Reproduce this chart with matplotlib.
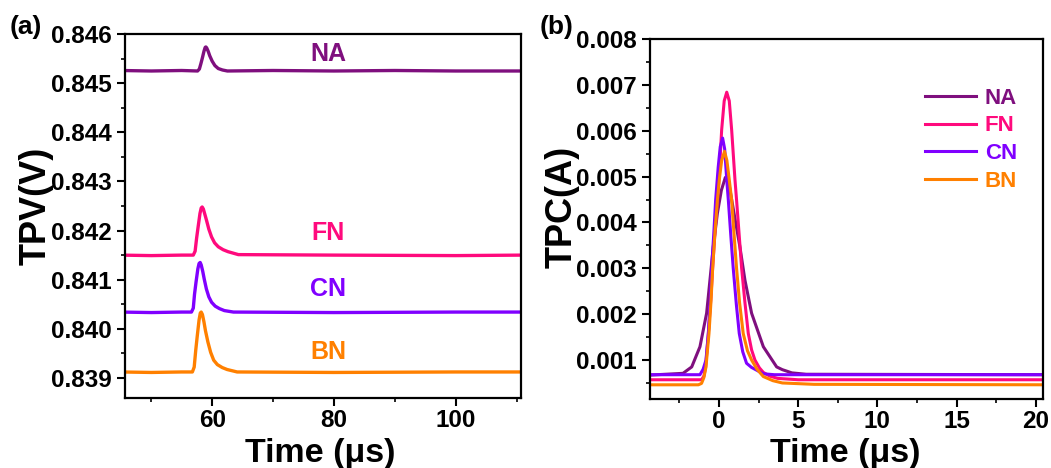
import matplotlib
matplotlib.use("Agg")
import matplotlib.pyplot as plt
from matplotlib.ticker import MultipleLocator, FormatStrFormatter

plt.rcParams['font.family'] = ['Liberation Sans', 'DejaVu Sans']
plt.rcParams['font.weight'] = 'bold'

names = ["NA", "FN", "CN", "BN"]
colors = ["#7f0f7e", "#ff0a7d", "#8000ff", "#ff8000"]

# transient photovoltage, time in us, voltage in V
tpv_t = {
    "NA": [45, 50, 55, 57.6, 57.9, 58.15, 58.4, 58.65, 58.85, 58.96, 59.1, 59.35, 59.6, 60.0, 60.45,
           61.0, 61.7, 62.5, 70, 80, 90, 100, 111],
    "FN": [45, 50, 55, 56.9, 57.2, 57.45, 57.7, 58.0, 58.2, 58.36, 58.55, 58.8, 59.07, 59.45, 59.9,
           60.4, 61.0, 61.8, 62.6, 64.3, 80, 100, 111],
    "CN": [45, 50, 55, 56.6, 56.9, 57.1, 57.35, 57.65, 57.85, 58.03, 58.2, 58.45, 58.7, 59.05, 59.45,
           59.9, 60.5, 61.2, 62.0, 63.5, 80, 100, 111],
    "BN": [45, 50, 55, 56.75, 57.05, 57.3, 57.55, 57.85, 58.05, 58.2, 58.4, 58.65, 58.9, 59.3, 59.75,
           60.25, 60.85, 61.65, 62.45, 64.1, 80, 100, 111],
}
tpv_v = {
    "NA": [0.84526, 0.84525, 0.84526, 0.84525, 0.84529, 0.84540, 0.84552, 0.84565, 0.84573, 0.84574,
           0.84572, 0.84565, 0.84556, 0.84545, 0.84536, 0.84530, 0.84527, 0.84525, 0.84526, 0.84525,
           0.84526, 0.84525, 0.84525],
    "FN": [0.84150, 0.84149, 0.84150, 0.84150, 0.84158, 0.84185, 0.84208, 0.84235, 0.84246, 0.84248,
           0.84244, 0.84233, 0.84221, 0.84203, 0.84187, 0.84175, 0.84167, 0.84161, 0.84157, 0.84151,
           0.84150, 0.84149, 0.84150],
    "CN": [0.84034, 0.84033, 0.84034, 0.84034, 0.84042, 0.84070, 0.84095, 0.84122, 0.84133, 0.84135,
           0.84130, 0.84117, 0.84101, 0.84081, 0.84065, 0.84054, 0.84046, 0.84041, 0.84037, 0.84034,
           0.84033, 0.84034, 0.84034],
    "BN": [0.83912, 0.83911, 0.83912, 0.83912, 0.83922, 0.83956, 0.83985, 0.84018, 0.84032, 0.84034,
           0.84029, 0.84014, 0.83996, 0.83973, 0.83952, 0.83936, 0.83927, 0.83921, 0.83917, 0.83912,
           0.83911, 0.83912, 0.83912],
}
tpv_label_y = {"NA": 0.8456, "FN": 0.84195, "CN": 0.8408, "BN": 0.83952}

# transient photocurrent, time in us, current in A
tpc_t = {
    "NA": [-5, -2.27, -1.72, -1.2, -0.78, -0.57, -0.36, -0.1, 0.15, 0.4, 0.65, 0.95, 1.32, 1.64,
           2.06, 2.8, 3.64, 4.0, 4.26, 4.6, 5.5, 21],
    "FN": [-5, -1.1, -0.95, -0.84, -0.67, -0.52, -0.4, -0.25, -0.1, 0.0, 0.17, 0.33, 0.49, 0.65,
           0.8, 1.01, 1.11, 1.27, 1.43, 1.64, 1.85, 2.06, 2.27, 2.55, 2.8, 3.2, 3.7, 5, 21],
    "CN": [-5, -1.2, -1.0, -0.82, -0.67, -0.55, -0.46, -0.32, -0.21, -0.05, 0.08, 0.23, 0.36, 0.49,
           0.59, 0.75, 0.9, 1.1, 1.28, 1.5, 1.74, 2.05, 2.37, 2.8, 3.5, 21],
    "BN": [-5, -1.3, -1.1, -0.95, -0.82, -0.63, -0.5, -0.4, -0.25, -0.1, 0.02, 0.17, 0.35, 0.5,
           0.65, 0.8, 0.95, 1.11, 1.3, 1.53, 1.8, 2.06, 2.4, 2.8, 3.4, 4.0, 6.0, 21],
}
tpc_i = {
    "NA": [0.00066, 0.00071, 0.00085, 0.00129, 0.00202, 0.00274, 0.00347, 0.00420, 0.00470, 0.00498,
           0.00480, 0.00420, 0.00347, 0.00274, 0.00202, 0.00129, 0.00085, 0.00079, 0.00076, 0.00072,
           0.00069, 0.00068],
    "FN": [0.00057, 0.00057, 0.00065, 0.00085, 0.00158, 0.00230, 0.00300, 0.00380, 0.00449, 0.00493,
           0.00602, 0.00665, 0.00684, 0.00665, 0.00602, 0.00493, 0.00449, 0.00375, 0.00300, 0.00225,
           0.00158, 0.00122, 0.00100, 0.00083, 0.00073, 0.00065, 0.00060, 0.00057, 0.00057],
    "CN": [0.00068, 0.00068, 0.00080, 0.00100, 0.00158, 0.00230, 0.00300, 0.00380, 0.00449, 0.00520,
           0.00565, 0.00584, 0.00560, 0.00493, 0.00449, 0.00370, 0.00300, 0.00220, 0.00158, 0.00118,
           0.00093, 0.00084, 0.00078, 0.00070, 0.00068, 0.00068],
    "BN": [0.00046, 0.00046, 0.00049, 0.00062, 0.00085, 0.00158, 0.00230, 0.00300, 0.00380, 0.00449,
           0.00493, 0.00535, 0.00555, 0.00535, 0.00493, 0.00449, 0.00375, 0.00300, 0.00225, 0.00158,
           0.00120, 0.00100, 0.00080, 0.00064, 0.00055, 0.00050, 0.00047, 0.00046],
}

fig = plt.figure(figsize=(10.51, 4.68), dpi=100)
ax1 = fig.add_axes([0.119, 0.1496, 0.3767, 0.7774])
ax2 = fig.add_axes([0.6185, 0.1474, 0.3739, 0.7693])


def style_axes(ax):
    for s in ax.spines.values():
        s.set_linewidth(1.6)
    ax.tick_params(which='major', direction='out', length=6, width=1.5, labelsize=17.5)
    ax.tick_params(which='minor', direction='out', length=3, width=1.2)
    ax.tick_params(axis='x', which='major', pad=2)
    ax.tick_params(top=False, right=False)
    for lab in ax.get_xticklabels() + ax.get_yticklabels():
        lab.set_fontweight('bold')


# (a) TPV
for n, c in zip(names, colors):
    ax1.plot(tpv_t[n], tpv_v[n], color=c, lw=2.4)
    ax1.text(79, tpv_label_y[n], n, color=c, fontsize=18, fontweight='bold',
             ha='center', va='center')
ax1.set_xlim(45.7, 110.7)
ax1.set_ylim(0.83859, 0.846)
ax1.xaxis.set_major_locator(MultipleLocator(20))
ax1.xaxis.set_minor_locator(MultipleLocator(10))
ax1.yaxis.set_major_locator(MultipleLocator(0.001))
ax1.yaxis.set_minor_locator(MultipleLocator(0.0005))
ax1.yaxis.set_major_formatter(FormatStrFormatter('%.3f'))
style_axes(ax1)

# (b) TPC
for n, c in zip(names, colors):
    ax2.plot(tpc_t[n], tpc_i[n], color=c, lw=2.2, label=n)
ax2.set_xlim(-4.35, 20.45)
ax2.set_ylim(0.00015, 0.008)
ax2.xaxis.set_major_locator(MultipleLocator(5))
ax2.xaxis.set_minor_locator(MultipleLocator(2.5))
ax2.yaxis.set_major_locator(MultipleLocator(0.001))
ax2.yaxis.set_minor_locator(MultipleLocator(0.0005))
ax2.yaxis.set_major_formatter(FormatStrFormatter('%.3f'))
style_axes(ax2)

leg = ax2.legend(loc='upper right', bbox_to_anchor=(0.985, 0.92), frameon=False,
                 prop={'size': 16, 'weight': 'bold'}, handlelength=2.3,
                 handletextpad=0.4, labelspacing=0.3)
for txt, c in zip(leg.get_texts(), colors):
    txt.set_color(c)

fig.text(0.305, 0.013, "Time (μs)", fontsize=24.5, fontweight='bold', ha='center', va='baseline')
fig.text(0.804, 0.013, "Time (μs)", fontsize=24.5, fontweight='bold', ha='center', va='baseline')
fig.text(0.034, 0.56, "TPV(V)", fontsize=26, fontweight='bold', rotation=90,
         ha='center', va='center')
fig.text(0.535, 0.557, "TPC(A)", fontsize=26, fontweight='bold', rotation=90,
         ha='center', va='center')
fig.text(0.025, 0.942, "(a)", fontsize=19, fontweight='bold', ha='center', va='center')
fig.text(0.53, 0.942, "(b)", fontsize=19, fontweight='bold', ha='center', va='center')

fig.savefig("out.png", dpi=100)
